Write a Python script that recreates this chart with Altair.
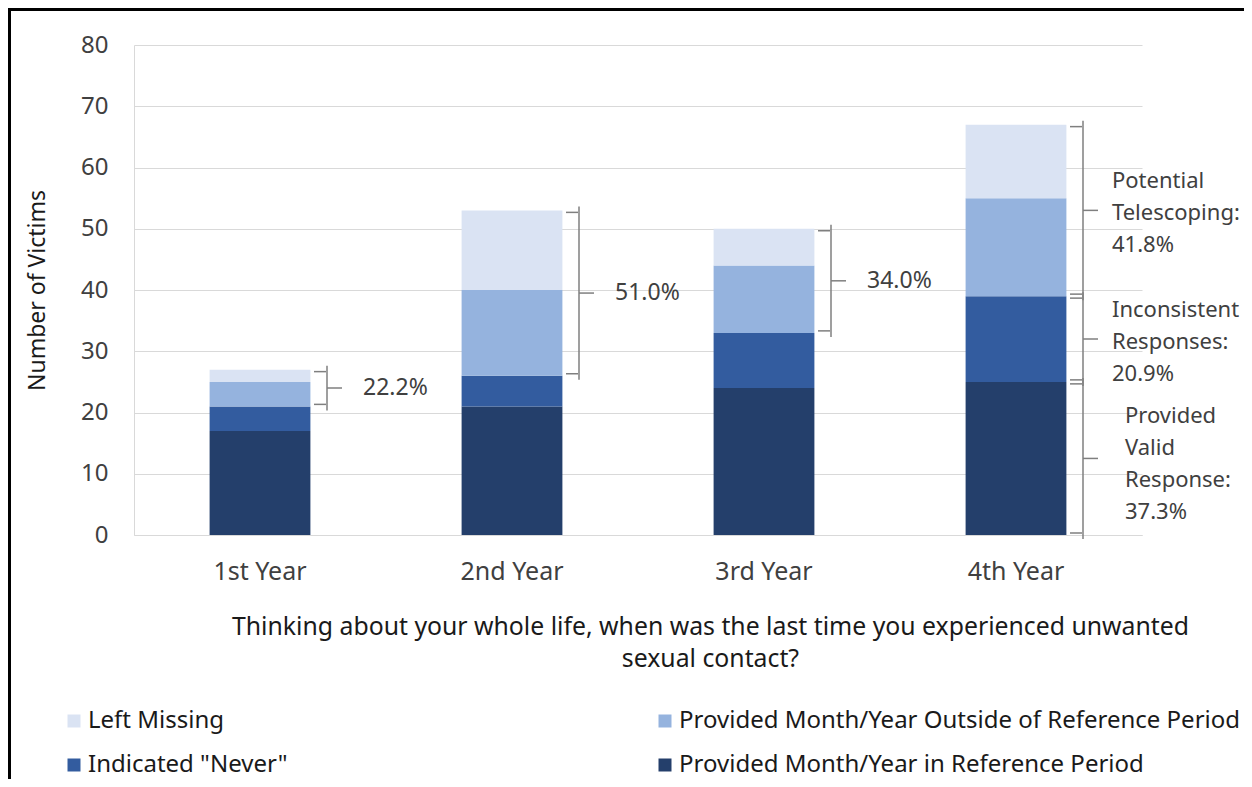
import altair as alt
import pandas as pd

# ---- data ----
years = ["1st Year", "2nd Year", "3rd Year", "4th Year"]
in_ref = [17, 21, 24, 25]
never = [4, 5, 9, 14]
outside = [4, 14, 11, 16]
missing = [2, 13, 6, 12]

series_names = [
    "Left Missing",
    "Provided Month/Year Outside of Reference Period",
    'Indicated "Never"',
    "Provided Month/Year in Reference Period",
]
series_colors = ["#dae3f3", "#95b3de", "#335c9f", "#243f6b"]
stack_order = {series_names[3]: 0, series_names[2]: 1, series_names[1]: 2, series_names[0]: 3}

brace_labels = [
    "22.2%",
    "51.0%",
    "34.0%",
    "Potential\nTelescoping:\n41.8%",
    "Inconsistent\nResponses:\n20.9%",
    "Provided\nValid\nResponse:\n37.3%",
]

# ---- tables ----
rows = []
for i, y in enumerate(years):
    for name, vals in [(series_names[3], in_ref), (series_names[2], never),
                       (series_names[1], outside), (series_names[0], missing)]:
        rows.append({"year": y, "series": name, "value": vals[i], "ord": stack_order[name]})
df = pd.DataFrame(rows)

brace_rows = []
for i in range(3):
    lo = in_ref[i] + never[i]
    hi = lo + outside[i] + missing[i]
    brace_rows.append({"year": years[i], "lo": lo, "hi": hi, "label": brace_labels[i]})
lo4 = in_ref[3] + never[3]
hi4 = lo4 + outside[3] + missing[3]
brace_rows.append({"year": years[3], "lo": lo4, "hi": hi4, "label": brace_labels[3]})
brace_rows.append({"year": years[3], "lo": in_ref[3], "hi": lo4, "label": brace_labels[4]})
brace_rows.append({"year": years[3], "lo": 0, "hi": in_ref[3], "label": brace_labels[5]})
bdf = pd.DataFrame(brace_rows)
bdf["mid"] = (bdf["lo"] + bdf["hi"]) / 2
bdf["nlines"] = bdf["label"].str.count("\n") + 1

FONT = "Noto Sans"
W, H = 1008, 490
TXT = "#404040"

xscale = alt.Scale(domain=years, paddingInner=0.6, paddingOuter=0.3)
yscale = alt.Scale(domain=[0, 80])

bars = alt.Chart(df).mark_bar().encode(
    x=alt.X("year:N", scale=xscale, sort=years,
            axis=alt.Axis(
                title=["Thinking about your whole life, when was the last time you experienced unwanted",
                       "sexual contact?"],
                labelAngle=0, labelFontSize=25, labelColor=TXT, labelPadding=24,
                ticks=False, domainColor="#d9d9d9", grid=False,
                titleFontSize=24.8, titleFontWeight="normal", titleColor="#1a1a1a",
                titleLineHeight=32, titleX=576, titleY=79, titleAlign="center",
                titleBaseline="top", titleAnchor="start")),
    y=alt.Y("value:Q", scale=yscale, stack="zero",
            axis=alt.Axis(title="Number of Victims", values=list(range(0, 81, 10)),
                          labelFontSize=24, labelColor=TXT, labelPadding=26,
                          ticks=False, domainColor="#d9d9d9", gridColor="#d9d9d9",
                          titleFontSize=23, titleFontWeight="normal", titleColor="#1a1a1a",
                          titleX=-97, titleY=245, titleAngle=-90, titleAlign="center",
                          titleBaseline="middle", titleAnchor="start")),
    color=alt.Color("series:N",
                    scale=alt.Scale(domain=series_names, range=series_colors),
                    legend=alt.Legend(title=None, orient="none", legendX=-72, legendY=664,
                                      direction="horizontal", columns=2, columnPadding=365,
                                      rowPadding=20, symbolType="square", symbolSize=169,
                                      symbolStrokeWidth=0, labelFontSize=24,
                                      labelColor="#1a1a1a", labelOffset=2, labelLimit=800)),
    order=alt.Order("ord:Q", sort="ascending"),
)

bx = alt.X("year:N", scale=xscale, sort=years)
BR = "#7f7f7f"
SW = 1.5

top_stub = alt.Chart(bdf).mark_rule(color=BR, strokeWidth=SW, xOffset=54, x2Offset=66,
                                    yOffset=2, y2Offset=2).encode(
    x=bx, x2="year:N", y=alt.Y("hi:Q", scale=yscale))
bot_stub = alt.Chart(bdf).mark_rule(color=BR, strokeWidth=SW, xOffset=54, x2Offset=66,
                                    yOffset=-2, y2Offset=-2).encode(
    x=bx, x2="year:N", y=alt.Y("lo:Q", scale=yscale))
vert = alt.Chart(bdf).mark_rule(color=BR, strokeWidth=SW, xOffset=67,
                                yOffset=4, y2Offset=-4).encode(
    x=bx, y=alt.Y("lo:Q", scale=yscale), y2="hi:Q")
nub = alt.Chart(bdf).mark_rule(color=BR, strokeWidth=SW, xOffset=67, x2Offset=82).encode(
    x=bx, x2="year:N", y=alt.Y("mid:Q", scale=yscale))


def label_layer(n, dx, dy, fs):
    return alt.Chart(bdf).transform_filter(alt.datum.nlines == n).mark_text(
        align="left", baseline="middle", dx=dx, dy=dy, fontSize=fs, font=FONT, color=TXT,
        lineBreak="\n", lineHeight=32).encode(
        x=bx, y=alt.Y("mid:Q", scale=yscale), text="label:N")


labels_1 = label_layer(1, 103, 0, 23)
labels_3 = label_layer(3, 96, -29, 22)
labels_4 = label_layer(4, 109, -42, 22)

border_left = alt.Chart(df).mark_rule(color="black", strokeWidth=3).encode(
    x=alt.value(-125), y=alt.value(-37), y2=alt.value(H + 244))
border_top = alt.Chart(df).mark_rule(color="black", strokeWidth=3).encode(
    x=alt.value(-126), x2=alt.value(W + 102), y=alt.value(-36))

chart = alt.layer(bars, top_stub, bot_stub, vert, nub, labels_1, labels_3, labels_4,
                  border_left, border_top).properties(
    width=W, height=H,
    padding={"left": 126, "top": 37, "right": 102, "bottom": 244},
    autosize=alt.AutoSizeParams(type="none"),
).configure(font=FONT).configure_view(stroke=None)

chart.save("out.html", embed_options={"renderer": "svg", "actions": False})
